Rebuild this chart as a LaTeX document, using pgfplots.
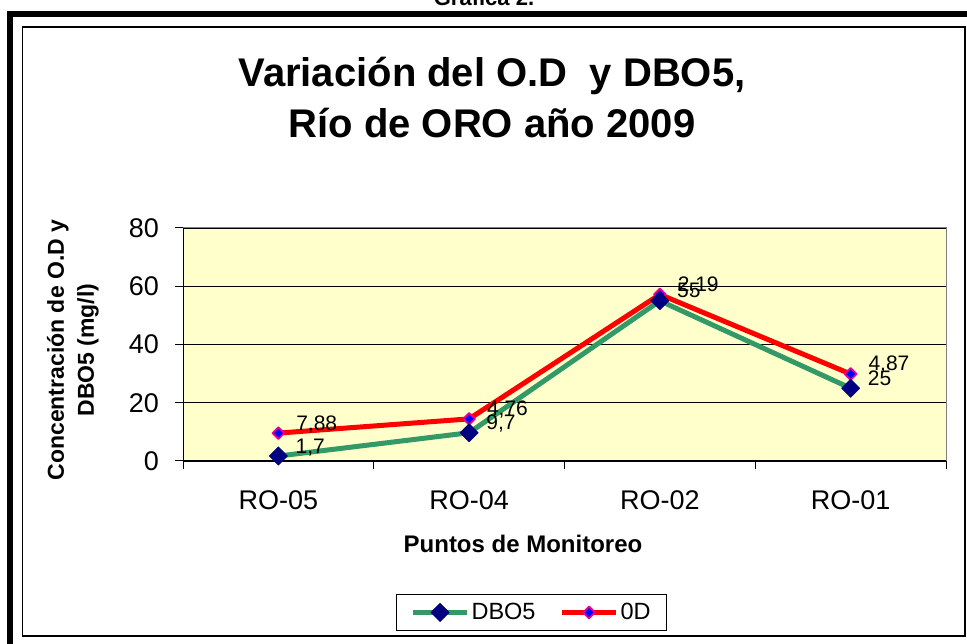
\documentclass[border=0pt]{standalone}
\usepackage{fontspec}
\setmainfont{Liberation Sans}
\usepackage{pgfplots}
\pgfplotsset{compat=1.18}
\usepackage{pgfplotstable}
\definecolor{bgy}{HTML}{FFFFCC}
\definecolor{sea}{HTML}{339966}
\definecolor{navyc}{HTML}{000080}

\pgfplotstableread{
x y lab
0 1.7 1,7
1 9.7 9,7
2 55 55
3 25 25
}\dbo
\pgfplotstableread{
x y lab
0 7.88 7,88
1 4.76 4,76
2 2.19 2,19
3 4.87 4,87
}\od

\begin{document}
\begin{tikzpicture}
\useasboundingbox (0,0) rectangle (967pt,644pt);
\fill[white] (0,0) rectangle (967pt,644pt);
\draw[line width=6pt] (10pt,-20pt) -- (10pt,630pt) -- (1000pt,630pt);
\draw[line width=1.2pt] (22.7pt,8pt) rectangle (965pt,617pt);
\node[anchor=base, inner sep=0pt, font=\bfseries\fontsize{22pt}{26pt}\selectfont] at (484pt,638pt) {Gráfica 2.};
\node[anchor=base, inner sep=0pt, font=\bfseries\fontsize{40pt}{48pt}\selectfont] at (492pt,557pt) {Variación del O.D\ \ y DBO5,};
\node[anchor=base, inner sep=0pt, font=\bfseries\fontsize{40pt}{48pt}\selectfont] at (492pt,506pt) {Río de ORO año 2009};
\begin{axis}[
  at={(183pt,183pt)}, anchor=south west,
  scale only axis, width=763pt, height=233pt,
  xmin=-0.5, xmax=3.5, ymin=0, ymax=80,
  enlargelimits=false, clip=false,
  axis x line*=bottom, axis y line*=left,
  axis line style={-, black, line width=1pt},
  axis background/.style={fill=bgy, draw=gray, line width=1pt},
  ytick={0,20,40,60,80},
  ymajorgrids, grid style={black, line width=0.8pt},
  xtick={0,1,2,3}, xticklabels={RO-05,RO-04,RO-02,RO-01},
  major x tick style={draw=none},
  minor xtick={-0.5,0.5,1.5,2.5,3.5},
  tick align=outside, major tick length=8pt, minor tick length=8pt,
  tick style={black, line width=1pt},
  ticklabel style={font=\fontsize{27pt}{32pt}\selectfont, inner sep=0pt},
  yticklabel style={anchor=east, xshift=-16pt},
  xticklabel style={anchor=base, yshift=-41pt},
  /pgf/number format/assume math mode=true,
  every axis y label/.style={at={(rel axis cs:-0.1442,0.476)}, rotate=90, anchor=center, align=center, font=\bfseries\fontsize{23pt}{30pt}\selectfont},
  ylabel={Concentración de O.D y\\DBO5 (mg/l)},
  every axis x label/.style={at={(rel axis cs:0.4456,0)}, anchor=base, yshift=-92pt, font=\bfseries\fontsize{24pt}{28pt}\selectfont},
  xlabel={Puntos de Monitoreo},
  stack plots=y,
  legend columns=2,
  legend image code/.code={\draw[mark repeat=2,mark phase=2] plot coordinates {(0pt,0pt)(27pt,0pt)(54pt,0pt)};},
  legend style={at={(rel axis cs:0.2792,-0.5708)}, anchor=north west, draw=black, line width=1pt, fill=white, font=\fontsize{23.5pt}{28pt}\selectfont, inner xsep=14pt, inner ysep=7pt, /tikz/every even column/.append style={column sep=22pt}},
  every node near coord/.append style={anchor=base west, inner sep=0pt, xshift=17pt, yshift=3pt, font=\fontsize{21pt}{25pt}\selectfont, text=black},
]
\addplot[sea, line width=5pt, line join=round, mark=square*, mark size=6.5pt, mark options={rotate=45, fill=navyc, draw=navyc, line width=0.5pt}, nodes near coords, point meta=explicit symbolic] table[x=x,y=y,meta=lab]{\dbo};
\addlegendentry{DBO5}
\addplot[red, line width=5pt, line join=round, mark=square*, mark size=4.2pt, mark options={rotate=45, fill=blue, draw=magenta, line width=1.8pt}, nodes near coords, point meta=explicit symbolic] table[x=x,y=y,meta=lab]{\od};
\addlegendentry{0D}
\end{axis}
\end{tikzpicture}
\end{document}
